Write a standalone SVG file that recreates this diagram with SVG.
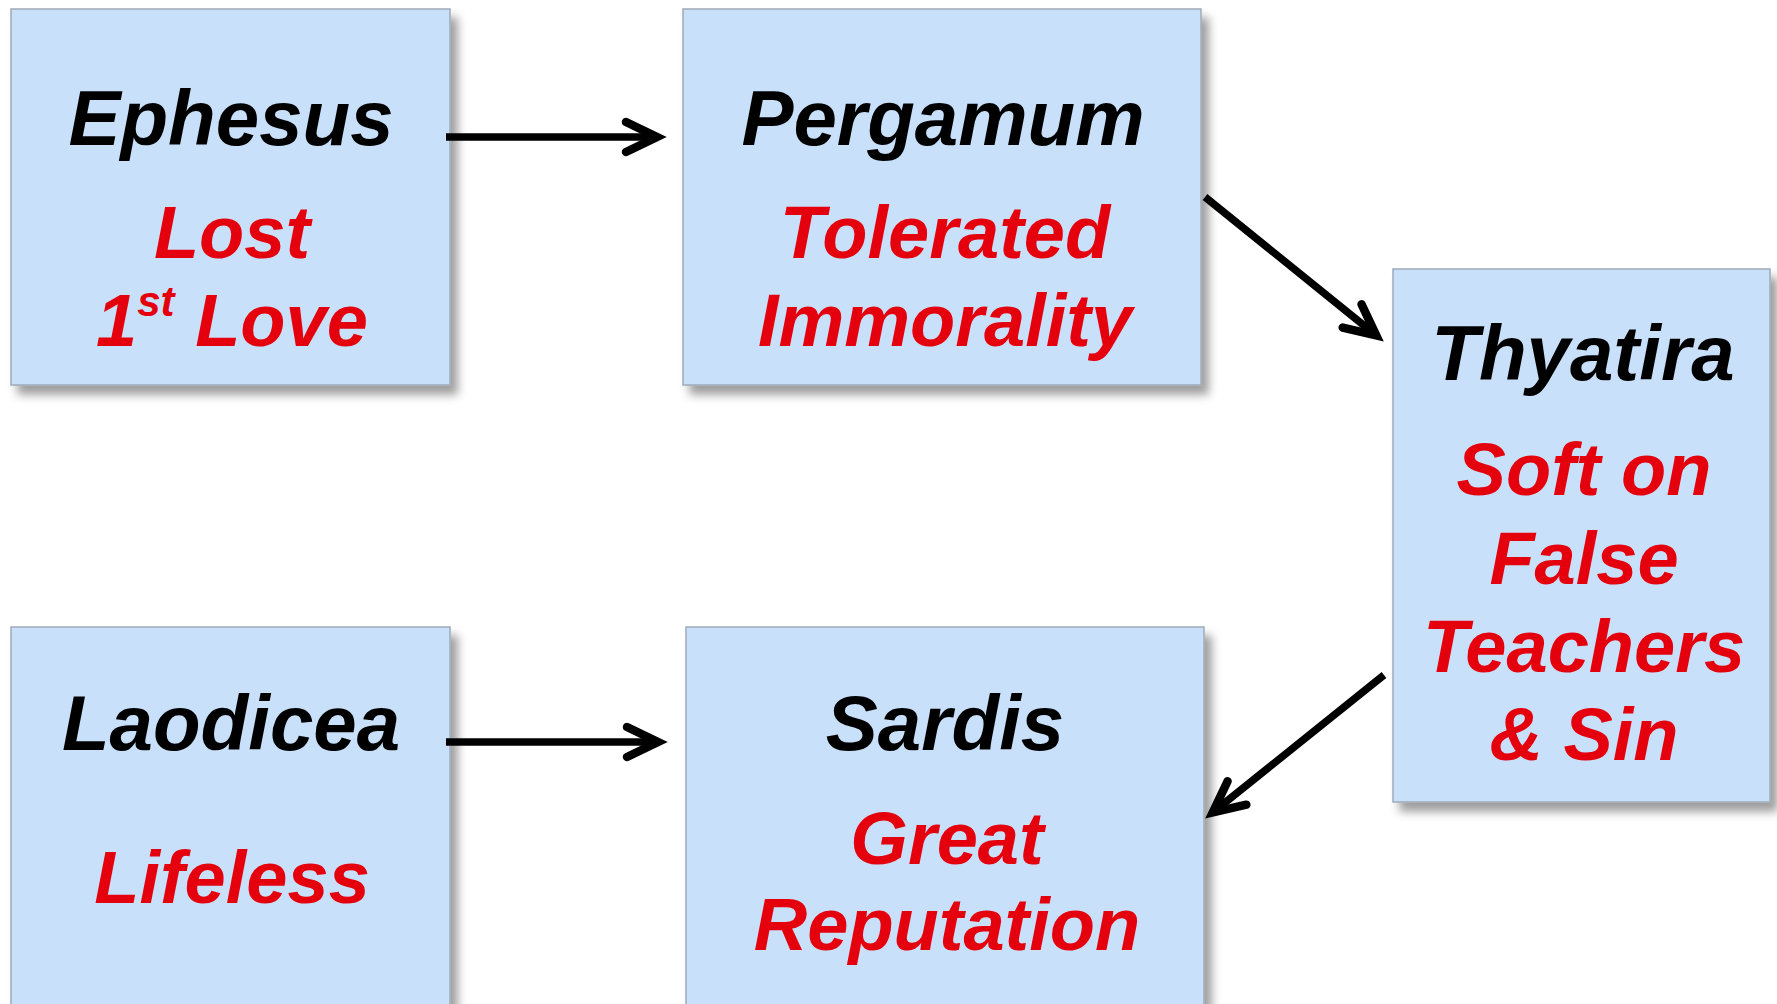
<svg xmlns="http://www.w3.org/2000/svg" width="1777" height="1004" viewBox="0 0 1777 1004">
<defs>
<filter id="sh" x="-10%" y="-10%" width="130%" height="130%">
<feDropShadow dx="7" dy="9" stdDeviation="5" flood-color="#000" flood-opacity="0.38"/>
</filter>
<marker id="ah" markerUnits="userSpaceOnUse" markerWidth="70" markerHeight="70" viewBox="-45 -35 70 70" refX="0" refY="0" orient="auto" overflow="visible">
<path d="M-32,-15 L-1,0 L-32,15" fill="none" stroke="#000" stroke-width="8.5" stroke-linecap="round" stroke-linejoin="miter"/>
</marker>
</defs>
<style>
.box{fill:#C8E0F9;stroke:#9EABB8;stroke-width:1.5;filter:url(#sh)}
.h{font-family:"Liberation Sans",Arial,sans-serif;font-weight:bold;font-style:italic;font-size:78px;fill:#000;text-anchor:middle}
.r{font-family:"Liberation Sans",Arial,sans-serif;font-weight:bold;font-style:italic;font-size:74px;fill:#E5000E;text-anchor:middle}
.c{fill:none;stroke:#000;stroke-width:7.5;marker-end:url(#ah)}
</style>
<rect width="1777" height="1004" fill="#fff"/>
<g id="ephesus">
<rect class="box" x="11" y="9" width="439" height="376"/>
<text class="h" x="231" y="145">Ephesus</text>
<text class="r" x="232" y="258">Lost</text>
<text class="r" x="232" y="346">1<tspan font-size="42" dy="-30">st</tspan><tspan dy="30"> Love</tspan></text>
</g>
<g id="pergamum">
<rect class="box" x="683" y="9" width="518" height="376"/>
<text class="h" x="943" y="145">Pergamum</text>
<text class="r" x="945" y="258">Tolerated</text>
<text class="r" x="945" y="346">Immorality</text>
</g>
<g id="thyatira">
<rect class="box" x="1393" y="269" width="377" height="533"/>
<text class="h" x="1583" y="380">Thyatira</text>
<text class="r" x="1584" y="495">Soft on</text>
<text class="r" x="1584" y="584">False</text>
<text class="r" x="1584" y="672">Teachers</text>
<text class="r" x="1584" y="760">&amp; Sin</text>
</g>
<g id="laodicea">
<rect class="box" x="11" y="627" width="439" height="400"/>
<text class="h" x="231" y="750">Laodicea</text>
<text class="r" x="232" y="903">Lifeless</text>
</g>
<g id="sardis">
<rect class="box" x="686" y="627" width="518" height="400"/>
<text class="h" x="945" y="750">Sardis</text>
<text class="r" x="947" y="864">Great</text>
<text class="r" x="947" y="950">Reputation</text>
</g>
<g id="connectors">
<line class="c" x1="446" y1="137" x2="658" y2="137"/>
<line class="c" x1="1205" y1="197" x2="1377" y2="336"/>
<line class="c" x1="1384" y1="675" x2="1212" y2="813"/>
<line class="c" x1="446" y1="742" x2="659" y2="742"/>
</g>
</svg>
